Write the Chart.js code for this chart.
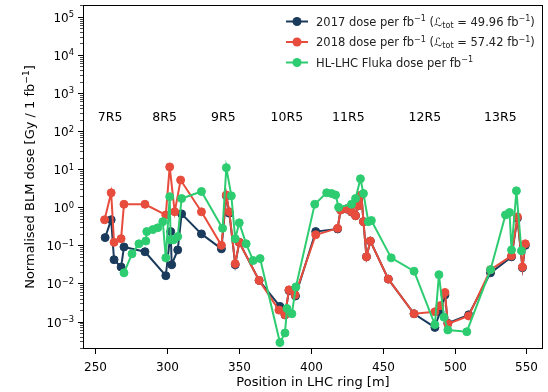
<!DOCTYPE html>
<html>
<head>
<meta charset="utf-8">
<script src="https://cdn.jsdelivr.net/npm/chart.js@4.4.1/dist/chart.umd.min.js"></script>
<style>
  html, body { margin: 0; padding: 0; background: #fff; }
</style>
</head>
<body>
<canvas id="chart" width="548" height="392"></canvas>
<script>
// BLM positions [m] and normalised doses [Gy / fb^-1]
const pos2017 = [256.9, 261.1, 263.1, 268.0, 270.0, 284.6, 299.1, 302.5, 303.2, 307.4, 310.1, 323.9, 337.8, 341.2, 343.3, 347.4, 350.2, 364.0, 378.5, 382.0, 384.8, 389.3, 403.4, 418.6, 420.7, 424.8, 428.3, 431.1, 433.1, 435.2, 436.6, 438.7, 441.4, 453.9, 471.8, 486.3, 489.8, 493.3, 495.3, 509.8, 525.0, 539.6, 543.7, 547.2, 549.2];
const dose2017 = [0.16, 0.47, 0.042, 0.027, 0.091, 0.068, 0.016, 0.23, 0.031, 0.076, 0.67, 0.20, 0.081, 2.0, 0.7, 0.031, 0.12, 0.012, 0.0025, 0.0015, 0.0065, 0.0047, 0.23, 0.27, 0.85, 0.9, 0.75, 0.6, 1.1, 2.1, 0.42, 0.05, 0.13, 0.013, 0.0016, 0.0007, 0.0018, 0.005, 0.0009, 0.0015, 0.019, 0.05, 0.52, 0.026, 0.1];

const pos2018 = [256.5, 261.1, 263.1, 268.0, 270.0, 284.6, 299.1, 301.8, 305.3, 309.4, 323.9, 337.8, 341.2, 343.3, 347.4, 350.2, 364.0, 377.8, 382.0, 384.8, 389.0, 403.4, 418.6, 420.7, 424.8, 428.3, 431.1, 433.1, 435.2, 436.6, 438.7, 441.4, 453.9, 471.8, 486.3, 489.8, 493.3, 495.3, 509.8, 525.0, 539.6, 543.7, 547.2, 549.2];
const dose2018 = [0.47, 2.4, 0.12, 0.15, 1.2, 1.2, 0.63, 11.5, 0.76, 5.2, 0.76, 0.10, 2.1, 0.76, 0.033, 0.12, 0.012, 0.002, 0.0015, 0.0068, 0.005, 0.19, 0.28, 0.85, 0.91, 0.76, 0.6, 1.1, 2.1, 0.42, 0.05, 0.13, 0.013, 0.0016, 0.0018, 0.0026, 0.0058, 0.00087, 0.0014, 0.023, 0.053, 0.56, 0.027, 0.11];

const posFluka = [270.0, 275.6, 280.4, 285.2, 285.9, 290.1, 293.5, 297.0, 299.1, 301.8, 302.5, 304.5, 307.4, 310.1, 323.9, 338.6, 341.2, 344.7, 347.4, 350.2, 355.0, 359.9, 364.7, 378.5, 382.0, 383.4, 386.8, 389.6, 402.7, 411.0, 414.4, 417.2, 419.3, 428.3, 431.1, 434.5, 436.6, 440.0, 442.1, 455.9, 471.8, 486.3, 489.1, 492.6, 495.3, 508.5, 525.0, 535.4, 538.2, 539.6, 543.0, 546.5];
const doseFluka = [0.019, 0.060, 0.11, 0.13, 0.23, 0.26, 0.29, 0.42, 0.047, 1.9, 0.14, 0.14, 0.17, 1.7, 2.6, 0.28, 11, 2.0, 0.15, 0.39, 0.11, 0.040, 0.045, 0.00028, 0.0005, 0.0022, 0.0016, 0.0081, 1.2, 2.4, 2.3, 2.1, 1.0, 1.2, 1.7, 5.6, 2.3, 0.42, 0.45, 0.047, 0.021, 0.00083, 0.017, 0.0013, 0.0006, 0.00054, 0.023, 0.63, 0.73, 0.076, 2.7, 0.072];

// cell labels along the ring
const regionNames = ["7R5", "8R5", "9R5", "10R5", "11R5", "12R5", "13R5"];
const regionPos = [260.4, 298.3, 339.1, 383.3, 426.1, 479.3, 531.8];
const regionLabelY = 224;

const xTicks = [250, 300, 350, 400, 450, 500, 550];
const yDecades = [-3, -2, -1, 0, 1, 2, 3, 4, 5];

const FONT = "DejaVu Sans";
const C2017 = "#1b3b5c";
const C2018 = "#e74c3c";
const CFLUKA = "#2ecc71";

const legendRows = [
  { color: C2017, parts: [["2017 dose per fb", 0], ["\u22121", 1], [" (", 0], ["\u2112", 0], ["tot", -1], [" = 49.96 fb", 0], ["\u22121", 1], [")", 0]] },
  { color: C2018, parts: [["2018 dose per fb", 0], ["\u22121", 1], [" (", 0], ["\u2112", 0], ["tot", -1], [" = 57.42 fb", 0], ["\u22121", 1], [")", 0]] },
  { color: CFLUKA, parts: [["HL-LHC Fluka dose per fb", 0], ["\u22121", 1]] }
];

function toPoints(xs, ys) {
  return xs.map((x, i) => ({ x: x, y: ys[i] }));
}

// text runs with super/subscripts: kind 0 normal, 1 sup, -1 sub
function richWidth(ctx, parts, size) {
  let w = 0;
  for (const [t, k] of parts) {
    ctx.font = `${k ? size * 0.7 : size}px "${FONT}"`;
    w += ctx.measureText(t).width;
  }
  return w;
}

function drawRich(ctx, parts, x, y, size, align) {
  const w = richWidth(ctx, parts, size);
  let cx = align === "right" ? x - w : align === "center" ? x - w / 2 : x;
  ctx.textAlign = "left";
  ctx.textBaseline = "alphabetic";
  for (const [t, k] of parts) {
    const s = k ? size * 0.7 : size;
    ctx.font = `${s}px "${FONT}"`;
    const dy = k === 1 ? -size * 0.38 : k === -1 ? size * 0.2 : 0;
    ctx.fillText(t, cx, y + dy);
    cx += ctx.measureText(t).width;
  }
}

const decorations = {
  id: "decorations",
  afterDraw(chart) {
    const { ctx, chartArea: a, scales: { x, y } } = chart;
    ctx.save();
    ctx.fillStyle = "#000";
    ctx.strokeStyle = "#000";

    // frame
    ctx.lineWidth = 1;
    ctx.strokeRect(a.left + 0.5, a.top + 0.5, a.right - a.left - 1, a.bottom - a.top - 1);

    // x ticks + labels
    ctx.font = `12px "${FONT}"`;
    xTicks.forEach((v) => {
      const px = Math.round(x.getPixelForValue(v)) + 0.5;
      ctx.beginPath();
      ctx.moveTo(px, a.bottom);
      ctx.lineTo(px, a.bottom + 5);
      ctx.stroke();
      ctx.textAlign = "center";
      ctx.textBaseline = "alphabetic";
      ctx.fillText(String(v), px, a.bottom + 22);
    });

    // y ticks (major + log minor) + labels
    for (let e = -4; e <= 5; e++) {
      for (let m = 1; m <= 9; m++) {
        const v = m * Math.pow(10, e);
        if (v < y.min || v > y.max) continue;
        const py = Math.round(y.getPixelForValue(v)) + 0.5;
        ctx.lineWidth = m === 1 ? 1 : 0.7;
        ctx.beginPath();
        ctx.moveTo(a.left - (m === 1 ? 5 : 3), py);
        ctx.lineTo(a.left, py);
        ctx.stroke();
      }
    }
    yDecades.forEach((e) => {
      const py = y.getPixelForValue(Math.pow(10, e));
      const ex = e < 0 ? "\u2212" + Math.abs(e) : String(e);
      drawRich(ctx, [["10", 0], [ex, 1]], 74, py + 5, 12, "right");
    });

    // axis titles
    ctx.font = `13px "${FONT}"`;
    ctx.textAlign = "center";
    ctx.textBaseline = "alphabetic";
    ctx.fillText("Position in LHC ring [m]", (a.left + a.right) / 2, 386);
    ctx.save();
    ctx.translate(34, (a.top + a.bottom) / 2);
    ctx.rotate(-Math.PI / 2);
    drawRich(ctx, [["Normalised BLM dose [Gy / 1 fb", 0], ["\u22121", 1], ["]", 0]], 0, 0, 13, "center");
    ctx.restore();

    // cell names
    ctx.font = `12.5px "${FONT}"`;
    ctx.textAlign = "center";
    ctx.textBaseline = "middle";
    regionNames.forEach((name, i) => {
      ctx.fillText(name, x.getPixelForValue(regionPos[i]), y.getPixelForValue(regionLabelY));
    });

    // legend
    legendRows.forEach((row, i) => {
      const cy = 21.5 + i * 20.5;
      ctx.strokeStyle = row.color;
      ctx.fillStyle = row.color;
      ctx.lineWidth = 2;
      ctx.beginPath();
      ctx.moveTo(286, cy);
      ctx.lineTo(308, cy);
      ctx.stroke();
      ctx.beginPath();
      ctx.arc(297, cy, 4.5, 0, Math.PI * 2);
      ctx.fill();
      ctx.fillStyle = "#222";
      drawRich(ctx, row.parts, 316, cy + 4, 11.5, "left");
    });
    ctx.restore();
  }
};

function seriesStyle(color, order) {
  return {
    borderColor: color,
    backgroundColor: color,
    borderWidth: 2,
    pointRadius: 4,
    pointBorderWidth: 1,
    pointBorderColor: color,
    pointBackgroundColor: color,
    tension: 0,
    order: order
  };
}

new Chart(document.getElementById("chart"), {
  type: "line",
  data: {
    datasets: [
      Object.assign({ label: "2017", data: toPoints(pos2017, dose2017) }, seriesStyle(C2017, 3)),
      Object.assign({ label: "2018", data: toPoints(pos2018, dose2018) }, seriesStyle(C2018, 2)),
      Object.assign({ label: "HL-LHC Fluka", data: toPoints(posFluka, doseFluka) }, seriesStyle(CFLUKA, 1))
    ]
  },
  options: {
    responsive: false,
    animation: false,
    devicePixelRatio: 1,
    layout: { padding: { top: 3, right: 3, left: 0, bottom: 0 } },
    plugins: { legend: { display: false }, tooltip: { enabled: false } },
    scales: {
      x: {
        type: "linear",
        min: 241.5,
        max: 561.5,
        grid: { display: false },
        border: { display: false },
        ticks: { display: false },
        afterFit(scale) { scale.height = 43; }
      },
      y: {
        type: "logarithmic",
        min: 1.9e-4,
        max: 2.05e5,
        grid: { display: false },
        border: { display: false },
        ticks: { display: false },
        afterFit(scale) { scale.width = 83; }
      }
    }
  },
  plugins: [decorations]
});
</script>
</body>
</html>
